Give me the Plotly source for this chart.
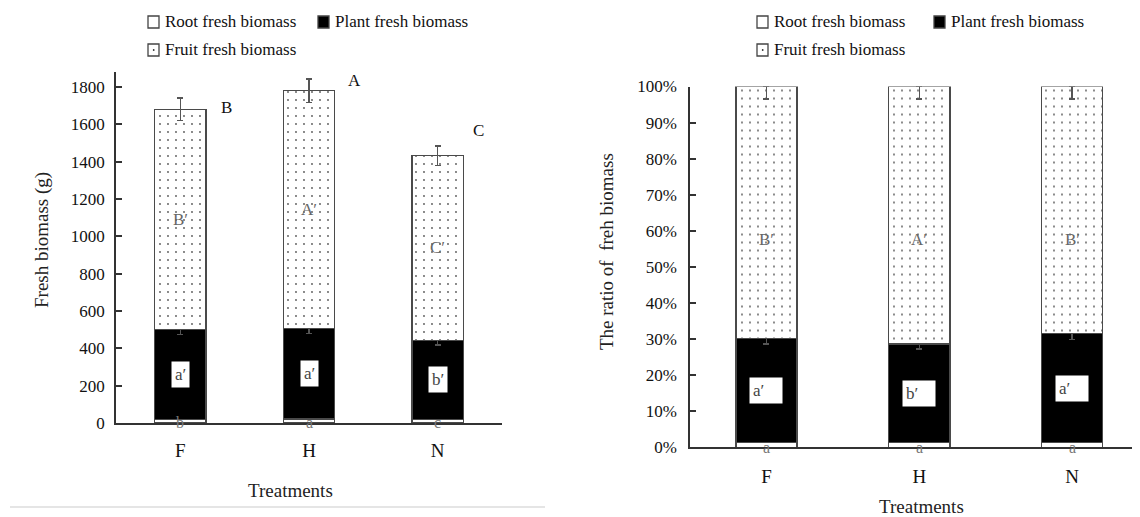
import plotly.graph_objects as go

# page body adds an 8px margin; the figure is sized so that it fills the window
OFF = 8
FW, FH = 1140 - OFF, 517 - OFF

# ---------------- data ----------------
categories = ["F", "H", "N"]

# left panel: fresh biomass (g)
root_g = [20, 22, 18]
plant_g = [482, 483, 425]
fruit_g = [1178, 1275, 989]
plant_err_g = [28, 25, 25]
fruit_err_g = [60, 62, 52]
total_letters = ["B", "A", "C"]
fruit_letters_g = ["B\u2032", "A\u2032", "C\u2032"]
plant_letters_g = ["a\u2032", "a\u2032", "b\u2032"]
root_letters_g = ["b", "a", "c"]
left_yticks = [0, 200, 400, 600, 800, 1000, 1200, 1400, 1600, 1800]

# right panel: ratio of fresh biomass (%)
root_pct = [1.3, 1.3, 1.3]
plant_pct = [28.9, 27.4, 30.2]
fruit_pct = [69.8, 71.3, 68.5]
plant_err_pct = [1.6, 1.5, 1.6]
fruit_err_pct = [3.5, 3.5, 3.5]
fruit_letters_pct = ["B\u2032", "A\u2032", "B\u2032"]
plant_letters_pct = ["a\u2032", "b\u2032", "a\u2032"]
root_letters_pct = ["a", "a", "a"]
right_yticks = [0, 10, 20, 30, 40, 50, 60, 70, 80, 90, 100]
right_yticklabels = [f"{v}%" for v in right_yticks]

legend_labels = ["Root fresh biomass", "Plant fresh biomass", "Fruit fresh biomass"]

# ---------------- style ----------------
FONT = "Liberation Serif"
EDGE = "#4a4a4a"
AXIS = "#333333"
ERR = "#555555"
BAR_W = 0.40


def px(x):
    return (x - OFF) / FW


def py(y):
    return 1 - (y - OFF) / FH


fig = go.Figure()

pattern = dict(shape=".", fgcolor="#555555", bgcolor="white", size=8,
               solidity=0.04, fillmode="replace")


def add_stack(xa, ya, root, plant, fruit, perr, ferr, fminus_only=False):
    fig.add_trace(go.Bar(x=categories, y=root, xaxis=xa, yaxis=ya, width=BAR_W,
                         marker=dict(color="white", line=dict(color=EDGE, width=1.5)),
                         showlegend=False, hoverinfo="skip"))
    fig.add_trace(go.Bar(x=categories, y=plant, xaxis=xa, yaxis=ya, width=BAR_W,
                         marker=dict(color="black", line=dict(color=EDGE, width=1.5)),
                         error_y=dict(type="data", array=perr, color=ERR,
                                      thickness=1.5, width=3),
                         showlegend=False, hoverinfo="skip"))
    if fminus_only:
        ey = dict(type="data", symmetric=False, array=[0] * len(ferr),
                  arrayminus=ferr, color=ERR, thickness=1.5, width=3)
    else:
        ey = dict(type="data", array=ferr, color=ERR, thickness=1.5, width=3)
    fig.add_trace(go.Bar(x=categories, y=fruit, xaxis=xa, yaxis=ya, width=BAR_W,
                         marker=dict(color="white", pattern=pattern,
                                     line=dict(color=EDGE, width=1.5)),
                         error_y=ey, showlegend=False, hoverinfo="skip"))


add_stack("x", "y", root_g, plant_g, fruit_g, plant_err_g, fruit_err_g)
add_stack("x2", "y2", root_pct, plant_pct, fruit_pct, plant_err_pct, fruit_err_pct,
          fminus_only=True)

ann = []
tick_font = dict(family=FONT, size=17, color="#111111")
xtick_font = dict(family=FONT, size=19, color="#111111")
title_font = dict(family=FONT, size=19, color="#222222")
gray_font = dict(family=FONT, size=17, color="#666666")


def A(**kw):
    kw.setdefault("xanchor", "center")
    kw.setdefault("yanchor", "middle")
    kw.setdefault("showarrow", False)
    ann.append(kw)


# ---- left annotations ----
letter_dx = [0.36, 0.35, 0.32]
letter_yshift = [-9, -1, 15]
for i, c in enumerate(categories):
    top = root_g[i] + plant_g[i] + fruit_g[i]
    A(x=i + letter_dx[i], y=top + fruit_err_g[i], xref="x", yref="y",
      text=total_letters[i], yshift=letter_yshift[i],
      font=dict(family=FONT, size=17, color="#111111"))
    A(x=i, y=root_g[i] + plant_g[i] + fruit_g[i] / 2, xref="x", yref="y",
      text=fruit_letters_g[i], font=gray_font)
    A(x=i, y=root_g[i] + plant_g[i] / 2, xref="x", yref="y",
      text=plant_letters_g[i], bgcolor="white", borderpad=3,
      font=dict(family=FONT, size=17, color="#444444"))
    A(x=i, y=0, xref="x", yref="y", text=root_letters_g[i], yshift=1,
      font=dict(family=FONT, size=16, color="#777777"))

# ---- right annotations ----
fruit_label_level = 57.5
for i, c in enumerate(categories):
    A(x=i, y=fruit_label_level, xref="x2", yref="y2",
      text=fruit_letters_pct[i], font=gray_font)
    A(x=i, y=root_pct[i] + plant_pct[i] / 2, xref="x2", yref="y2",
      text=plant_letters_pct[i], bgcolor="white", borderpad=3, width=26, align="left",
      font=dict(family=FONT, size=17, color="#444444"))
    A(x=i, y=0, xref="x2", yref="y2", text=root_letters_pct[i],
      font=dict(family=FONT, size=16, color="#777777"))

# ---- axis titles ----
A(x=px(290), y=py(490), xref="paper", yref="paper", text="Treatments", font=title_font)
A(x=px(921), y=py(506), xref="paper", yref="paper", text="Treatments", font=title_font)
A(x=px(42), y=py(240), xref="paper", yref="paper", text="Fresh biomass (g)",
  textangle=-90, font=title_font)
A(x=px(607), y=py(252), xref="paper", yref="paper",
  text="The ratio of\u00a0 freh biomass", textangle=-90, font=title_font)

# ---- manual legends ----
shapes = []
legend_sets = [
    dict(box_x=[148, 318, 148], y=[22, 22, 50]),
    dict(box_x=[757, 934, 757], y=[22, 22, 50]),
]
fills = ["white", "black", "white"]
for ls in legend_sets:
    for k, lab in enumerate(legend_labels):
        bx, by = ls["box_x"][k], ls["y"][k]
        shapes.append(dict(type="rect", xref="paper", yref="paper",
                           x0=px(bx), x1=px(bx + 11), y0=py(by + 6), y1=py(by - 6),
                           line=dict(color="#444444", width=1.3), fillcolor=fills[k]))
        if k == 2:
            shapes.append(dict(type="circle", xref="paper", yref="paper",
                               x0=px(bx + 4.8), x1=px(bx + 6.6), y0=py(by + 0.9), y1=py(by - 0.9),
                               line=dict(width=0), fillcolor="#333333"))
        A(x=px(bx + 15), y=py(by), xref="paper", yref="paper", text=lab,
          xanchor="left", font=dict(family=FONT, size=17, color="#111111"))

# separator line
shapes.append(dict(type="line", xref="paper", yref="paper", x0=px(10), x1=px(545),
                   y0=py(507), y1=py(507), line=dict(color="#dddddd", width=1.5)))


def axis(**kw):
    d = dict(showgrid=False, zeroline=False, showline=True, linecolor=AXIS,
             linewidth=1.5, tickfont=dict(tick_font), automargin=False)
    d.update(kw)
    return d


fig.update_layout(
    width=FW, height=FH, margin=dict(l=0, r=0, t=0, b=0, pad=0, autoexpand=False),
    paper_bgcolor="white", plot_bgcolor="white", barmode="stack",
    showlegend=False, annotations=ann, shapes=shapes,
    font=dict(family=FONT, size=17),
    xaxis=axis(domain=[px(116), px(502)], anchor="y", range=[-0.5, 2.5],
               type="category", ticks="", ticklabelstandoff=9, tickfont=xtick_font),
    yaxis=axis(domain=[py(423), py(72)], anchor="x", range=[0, 1880],
               tickmode="array", tickvals=left_yticks,
               ticktext=[str(v) for v in left_yticks],
               ticks="inside", ticklen=6, tickcolor=AXIS,
               tickwidth=1.5, ticklabelstandoff=6),
    xaxis2=axis(domain=[px(690), 1.0], anchor="y2", range=[-0.5, 2.444],
                type="category", ticks="", ticklabelstandoff=11, tickfont=xtick_font),
    yaxis2=axis(domain=[py(447.3), py(86.5)], anchor="x2", range=[0, 100],
                tickmode="array", tickvals=right_yticks, ticktext=right_yticklabels,
                ticks="inside", ticklen=6,
                tickcolor=AXIS, tickwidth=1.5, ticklabelstandoff=8),
)

fig.write_html("out.html")
